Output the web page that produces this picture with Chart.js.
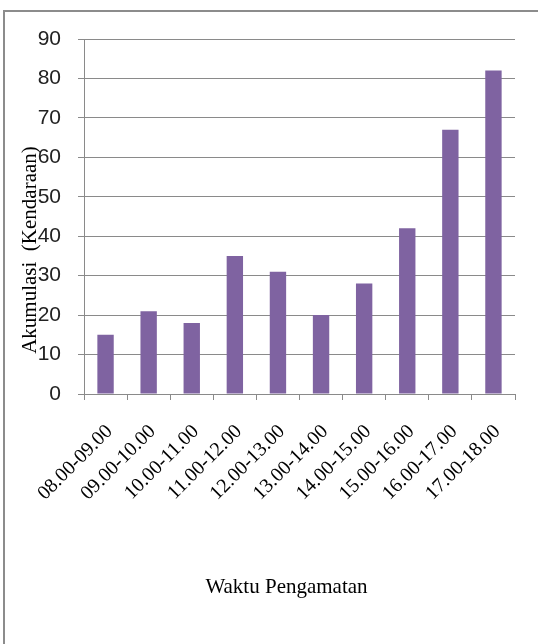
<!DOCTYPE html>
<html>
<head>
<meta charset="utf-8">
<script src="https://cdn.jsdelivr.net/npm/chart.js@4"></script>
<style>
  html, body { margin: 0; padding: 0; background: #fff; }
  #wrap { position: relative; width: 538px; height: 644px; overflow: hidden; }
  #frame { position: absolute; left: 3px; top: 10px; width: 600px; height: 700px;
           border-top: 2px solid #8c8c8c; border-left: 2px solid #8c8c8c; }
  canvas { position: absolute; left: 0; top: 0; }
</style>
</head>
<body>
<div id="wrap">
  <div id="frame"></div>
  <canvas id="chart" width="538" height="644"></canvas>
</div>
<script>
let waktu = ['08.00-09.00','09.00-10.00','10.00-11.00','11.00-12.00','12.00-13.00',
             '13.00-14.00','14.00-15.00','15.00-16.00','16.00-17.00','17.00-18.00']
let akumulasi = [15,21,18,35,31,20,28,42,67,82]
let yTicks = [0,10,20,30,40,50,60,70,80,90]
let judulX = 'Waktu Pengamatan'
let judulY = 'Akumulasi  (Kendaraan)'

let abu = '#8a8a8a'
let serif = '"Liberation Serif", "Times New Roman", serif'

// axis titles sit where Excel put them (the y one overlaps the tick labels)
let judulPlugin = {
  id: 'judul',
  afterDraw(chart) {
    let ctx = chart.ctx
    let area = chart.chartArea
    ctx.save()
    ctx.fillStyle = '#000'
    ctx.font = '21px ' + serif
    ctx.textAlign = 'center'
    ctx.textBaseline = 'middle'
    ctx.fillText(judulX, (area.left + area.right) / 2 - 13, area.bottom + 193)
    ctx.translate(area.left - 54, area.bottom - 144)
    ctx.rotate(-Math.PI / 2)
    ctx.fillText(judulY, 0, 0)
    ctx.restore()
  }
}

let ctx = document.querySelector('#chart').getContext('2d')

let chart = new Chart(ctx, {
  type: 'bar',
  data: {
    labels: waktu,
    datasets: [{
      data: akumulasi,
      backgroundColor: '#7f63a1',
      barPercentage: 0.38,
      categoryPercentage: 1
    }]
  },
  options: {
    responsive: false,
    animation: false,
    layout: { padding: { left: 0, right: 23, top: 39, bottom: 0 } },
    plugins: { legend: { display: false }, tooltip: { enabled: false } },
    scales: {
      x: {
        offset: true,
        grid: { offset: true, drawOnChartArea: false, color: abu, tickLength: 6 },
        border: { color: abu },
        ticks: { color: '#000', font: { family: serif, size: 20 }, maxRotation: 45, minRotation: 45, padding: 20, labelOffset: 4 },
        afterFit(scale) { scale.height = 250 }
      },
      y: {
        min: 0,
        max: 90,
        afterBuildTicks(scale) { scale.ticks = yTicks.map(v => ({ value: v })) },
        grid: { color: abu, tickLength: 6 },
        border: { color: abu },
        ticks: { color: '#222', font: { family: '"Liberation Sans", Arial, sans-serif', size: 21 }, padding: 17 },
        afterFit(scale) { scale.width = 84 }
      }
    }
  },
  plugins: [judulPlugin]
})
</script>
</body>
</html>
